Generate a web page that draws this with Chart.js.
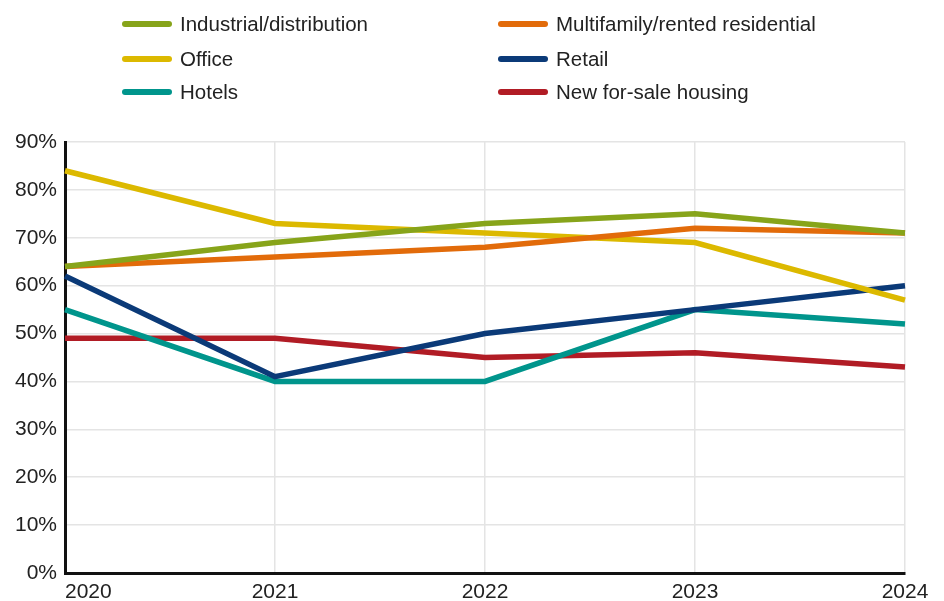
<!DOCTYPE html>
<html>
<head>
<meta charset="utf-8">
<script src="https://cdn.jsdelivr.net/npm/chart.js@4.4.1/dist/chart.umd.min.js"></script>
<style>
    body { margin: 0; background: #fff; }
    #wrap { position: relative; width: 944px; height: 601px; }
    #legend { position: absolute; left: 0; top: 0; width: 944px; height: 110px; font-family: "Liberation Sans", Arial, sans-serif; font-size: 20.5px; color: #222; }
    .item { position: absolute; display: flex; align-items: center; height: 24px; white-space: nowrap; }
    .swatch { width: 50px; height: 6px; border-radius: 3px; margin-right: 8px; }
</style>
</head>
<body>
<div id="wrap">
    <canvas id="chart" width="944" height="601"></canvas>
    <div id="legend"></div>
</div>
<script>
// Data
const years = ['2020', '2021', '2022', '2023', '2024'];
const industrial = [64, 69, 73, 75, 71];
const multifamily = [64, 66, 68, 72, 71];
const office = [84, 73, 71, 69, 57];
const retail = [62, 41, 50, 55, 60];
const hotels = [55, 40, 40, 55, 52];
const newHousing = [49, 49, 45, 46, 43];
const yTicks = [0, 10, 20, 30, 40, 50, 60, 70, 80, 90];

const seriesNames = ['Industrial/distribution', 'Multifamily/rented residential', 'Office', 'Retail', 'Hotels', 'New for-sale housing'];
const seriesData = [industrial, multifamily, office, retail, hotels, newHousing];
const seriesColors = ['#87a41a', '#e26b0a', '#dcb900', '#0b3a78', '#00958c', '#b11c25'];

const FONT = '"Liberation Sans", Arial, sans-serif';

// Draw x labels at the scale's tick positions (first one left-aligned like the original)
const xLabels = {
    id: 'xLabels',
    afterDraw(chart) {
        const { ctx, scales: { x } } = chart;
        ctx.save();
        ctx.font = '21px ' + FONT;
        ctx.fillStyle = '#222';
        ctx.textBaseline = 'middle';
        years.forEach((y, i) => {
            const px = x.getPixelForTick(i);
            ctx.textAlign = i === 0 ? 'left' : 'center';
            ctx.fillText(y, px, 592);
        });
        ctx.restore();
    }
};

const chart = new Chart(document.getElementById('chart'), {
    type: 'line',
    data: {
        labels: years,
        datasets: seriesNames.map((name, i) => ({
            label: name,
            data: seriesData[i],
            borderColor: seriesColors[i],
            backgroundColor: seriesColors[i],
            borderWidth: 5.5,
            pointRadius: 0,
            tension: 0,
            fill: false
        }))
    },
    options: {
        responsive: false,
        animation: false,
        layout: { padding: { top: 142, right: 39, left: 0, bottom: 0 } },
        plugins: { legend: { display: false }, tooltip: { enabled: false } },
        scales: {
            x: {
                offset: false,
                grid: { color: '#e4e4e4', lineWidth: 1.5, drawTicks: false },
                border: { color: '#111', width: 3 },
                ticks: { display: false },
                afterFit(s) { s.height = 28; }
            },
            y: {
                min: 0,
                max: 90,
                afterBuildTicks(s) { s.ticks = yTicks.map(v => ({ value: v })); },
                grid: { color: '#e4e4e4', lineWidth: 1.5, drawTicks: false },
                border: { color: '#111', width: 3 },
                ticks: {
                    padding: 8,
                    color: '#222',
                    font: { family: FONT, size: 21 },
                    callback: v => v + '%'
                },
                afterFit(s) { s.width = 65; }
            }
        }
    },
    plugins: [xLabels]
});

// HTML legend in two columns, built from the chart datasets
const legend = document.getElementById('legend');
const cols = [122, 498];
const rows = [24, 59, 92];
chart.data.datasets.forEach((ds, i) => {
    const el = document.createElement('div');
    el.className = 'item';
    el.style.left = cols[i % 2] + 'px';
    el.style.top = (rows[Math.floor(i / 2)] - 12) + 'px';
    el.innerHTML = '<span class="swatch" style="background:' + ds.borderColor + '"></span>' + ds.label;
    legend.appendChild(el);
});
</script>
</body>
</html>
